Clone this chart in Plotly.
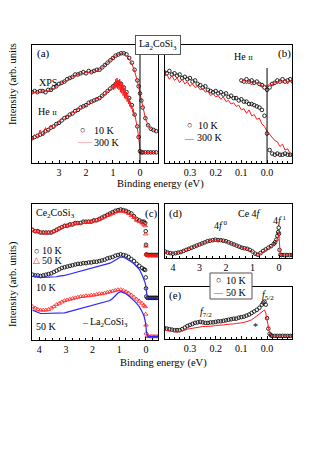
import plotly.graph_objects as go

W, H = 317, 454
FONT = "Liberation Serif, Times New Roman, serif"
RED = "#ff1a1a"
BLUE = "#2828ff"

# ---------------- data ----------------
# panel (a): La2CoSi3 valence band, XPS and He II
EA = [4.0, 3.9, 3.8, 3.7, 3.6, 3.5, 3.4, 3.3, 3.2, 3.1, 3.0, 2.9, 2.8, 2.7, 2.6, 2.5, 2.4, 2.3, 2.2, 2.1,
      2.0, 1.9, 1.8, 1.7, 1.6, 1.5, 1.4, 1.3, 1.2, 1.1, 1.0, 0.9, 0.8, 0.7, 0.6, 0.5, 0.4, 0.3, 0.2, 0.1,
      0.05, 0.0, -0.05, -0.1, -0.2, -0.3, -0.4, -0.5, -0.6]
XPS_10K = [0.60, 0.61, 0.60, 0.61, 0.61, 0.60, 0.62, 0.62, 0.64, 0.65, 0.67, 0.68, 0.69, 0.71, 0.72, 0.73, 0.75, 0.75, 0.76, 0.77,
           0.76, 0.78, 0.77, 0.78, 0.79, 0.79, 0.81, 0.83, 0.85, 0.87, 0.89, 0.91, 0.92, 0.93, 0.93, 0.92, 0.89, 0.85, 0.79, 0.70,
           0.65, 0.59, 0.53, 0.47, 0.38, 0.32, 0.29, 0.28, 0.27]
XPS_300K = [0.60, 0.60, 0.60, 0.60, 0.61, 0.61, 0.61, 0.62, 0.63, 0.65, 0.66, 0.68, 0.69, 0.70, 0.72, 0.73, 0.74, 0.75, 0.76, 0.76,
            0.77, 0.77, 0.77, 0.78, 0.78, 0.79, 0.81, 0.83, 0.85, 0.87, 0.89, 0.91, 0.92, 0.93, 0.93, 0.91, 0.88, 0.84, 0.78, 0.70,
            0.65, 0.59, 0.53, 0.47, 0.38, 0.32, 0.29, 0.28, 0.27]
HE_10K = [0.21, 0.22, 0.23, 0.24, 0.25, 0.27, 0.28, 0.30, 0.31, 0.33, 0.34, 0.36, 0.38, 0.39, 0.41, 0.42, 0.44, 0.45, 0.47, 0.48,
          0.49, 0.51, 0.52, 0.53, 0.54, 0.55, 0.57, 0.59, 0.61, 0.63, 0.65, 0.67, 0.68, 0.67, 0.64, 0.60, 0.55, 0.49, 0.41, 0.31,
          0.22, 0.10, 0.09, 0.09, 0.09, 0.09, 0.09, 0.09, 0.09]
EA_HE300 = [4.0, 3.9, 3.8, 3.7, 3.6, 3.5, 3.4, 3.3, 3.2, 3.1, 3.0, 2.9, 2.8, 2.7, 2.6, 2.5, 2.4, 2.3, 2.2, 2.1,
            2.0, 1.9, 1.8, 1.7, 1.6, 1.5, 1.4, 1.3, 1.2, 1.1,
            1.0, 0.975, 0.95, 0.925, 0.9, 0.875, 0.85, 0.825, 0.8, 0.775, 0.75, 0.725, 0.7, 0.675, 0.65, 0.625,
            0.6, 0.575, 0.55, 0.525, 0.5, 0.475, 0.45, 0.425, 0.4, 0.375, 0.35, 0.325, 0.3, 0.275, 0.25, 0.225, 0.2,
            0.15, 0.1, 0.05, 0.0, -0.05, -0.1, -0.2, -0.3, -0.4, -0.5, -0.6]
HE_300K = [0.20, 0.24, 0.21, 0.28, 0.23, 0.30, 0.26, 0.32, 0.29, 0.33, 0.34, 0.37, 0.37, 0.40, 0.40, 0.43, 0.43, 0.46, 0.46, 0.48,
           0.49, 0.50, 0.52, 0.52, 0.55, 0.54, 0.57, 0.58, 0.61, 0.62,
           0.66, 0.62, 0.68, 0.63, 0.71, 0.64, 0.72, 0.63, 0.70, 0.62, 0.71, 0.60, 0.69, 0.59, 0.67, 0.57,
           0.65, 0.55, 0.63, 0.54, 0.60, 0.52, 0.58, 0.50, 0.55, 0.48, 0.52, 0.46, 0.49, 0.43, 0.46, 0.40, 0.42,
           0.37, 0.30, 0.22, 0.12, 0.10, 0.09, 0.09, 0.09, 0.09, 0.09, 0.09]

# panel (b): He II near E_F
EB = [0.40, 0.39, 0.38, 0.37, 0.36, 0.35, 0.34, 0.33, 0.32, 0.31, 0.30, 0.29, 0.28, 0.27, 0.26, 0.25, 0.24,
      0.23, 0.22, 0.21, 0.20, 0.19, 0.18, 0.17, 0.16, 0.15, 0.14, 0.13, 0.12, 0.11, 0.10, 0.09, 0.08, 0.07,
      0.06, 0.05, 0.04, 0.03, 0.02, 0.01, 0.00, -0.01, -0.02, -0.03, -0.04, -0.05, -0.06, -0.07, -0.08, -0.09, -0.10]
B_10K = [0.77, 0.76, 0.78, 0.75, 0.76, 0.74, 0.75, 0.72, 0.73, 0.71, 0.72, 0.69, 0.70, 0.67, 0.66, 0.64, 0.65,
         0.62, 0.61, 0.60, 0.61, 0.59, 0.60, 0.58, 0.59, 0.56, 0.57, 0.55, 0.55, 0.53, 0.54, 0.52, 0.52, 0.50,
         0.50, 0.49, 0.48, 0.47, 0.45, 0.40, 0.25, 0.11, 0.08, 0.07, 0.08, 0.07, 0.07, 0.08, 0.07, 0.07, 0.07]
B_300K = [0.73, 0.75, 0.71, 0.74, 0.70, 0.72, 0.68, 0.71, 0.67, 0.69, 0.65, 0.67, 0.64, 0.65, 0.62, 0.63, 0.60,
          0.61, 0.57, 0.59, 0.56, 0.57, 0.54, 0.56, 0.52, 0.53, 0.50, 0.51, 0.48, 0.49, 0.45, 0.46, 0.42, 0.45,
          0.40, 0.41, 0.37, 0.38, 0.33, 0.31, 0.27, 0.24, 0.22, 0.19, 0.18, 0.14, 0.16, 0.11, 0.12, 0.08, 0.07]
EB_DIV = [0.10, 0.09, 0.08, 0.07, 0.06, 0.05, 0.04, 0.03, 0.02, 0.01, 0.00,
          -0.01, -0.02, -0.03, -0.04, -0.05, -0.06, -0.07, -0.08, -0.09, -0.10]
B_DIV_10K = [0.70, 0.69, 0.71, 0.69, 0.70, 0.68, 0.69, 0.67, 0.66, 0.64, 0.62,
             0.64, 0.67, 0.68, 0.70, 0.69, 0.71, 0.69, 0.70, 0.71, 0.69]
B_DIV_300K = [0.68, 0.71, 0.67, 0.70, 0.66, 0.69, 0.67, 0.68, 0.65, 0.66, 0.65,
              0.67, 0.66, 0.69, 0.67, 0.70, 0.68, 0.71, 0.67, 0.70, 0.69]

# panel (c): Ce2CoSi3 valence band
EC = [4.25, 4.15, 4.05, 3.95, 3.85, 3.75, 3.65, 3.55, 3.45, 3.35, 3.25, 3.15, 3.05, 2.95, 2.85, 2.75, 2.65,
      2.55, 2.45, 2.35, 2.25, 2.15, 2.05, 1.95, 1.85, 1.75, 1.65, 1.55, 1.45, 1.35, 1.25, 1.15, 1.05, 0.95,
      0.85, 0.75, 0.65, 0.55, 0.45, 0.35, 0.25, 0.15, 0.08, 0.03, 0.01, 0.0, -0.01, -0.05, -0.1, -0.15,
      -0.2, -0.25, -0.3, -0.35, -0.4, -0.45]
CE_TOP_10K = [0.81, 0.80, 0.80, 0.79, 0.79, 0.79, 0.79, 0.79, 0.80, 0.81, 0.82, 0.83, 0.84, 0.84, 0.85, 0.85, 0.86,
              0.86, 0.86, 0.87, 0.87, 0.87, 0.87, 0.88, 0.88, 0.89, 0.90, 0.91, 0.92, 0.93, 0.94, 0.95, 0.955, 0.96,
              0.955, 0.95, 0.94, 0.93, 0.91, 0.89, 0.88, 0.87, 0.87, 0.86, 0.80, 0.70, 0.63, 0.625, 0.625, 0.625,
              0.625, 0.625, 0.625, 0.625, 0.625, 0.625]
CE_TOP_50K = [0.81, 0.80, 0.795, 0.79, 0.79, 0.785, 0.79, 0.79, 0.80, 0.81, 0.82, 0.83, 0.835, 0.84, 0.845, 0.85, 0.855,
              0.86, 0.86, 0.865, 0.865, 0.87, 0.87, 0.875, 0.88, 0.885, 0.895, 0.905, 0.915, 0.92, 0.93, 0.94, 0.945, 0.95,
              0.945, 0.94, 0.93, 0.915, 0.90, 0.88, 0.87, 0.86, 0.85, 0.84, 0.78, 0.69, 0.63, 0.62, 0.62, 0.62,
              0.62, 0.62, 0.62, 0.62, 0.62, 0.62]
CE_MID_10K = [0.48, 0.475, 0.475, 0.47, 0.475, 0.48, 0.485, 0.49, 0.50, 0.51, 0.52, 0.53, 0.535, 0.54, 0.545, 0.55, 0.555,
              0.56, 0.56, 0.565, 0.565, 0.57, 0.57, 0.575, 0.575, 0.58, 0.585, 0.59, 0.60, 0.605, 0.61, 0.62, 0.625, 0.63,
              0.625, 0.62, 0.61, 0.595, 0.58, 0.56, 0.545, 0.53, 0.52, 0.515, 0.46, 0.38, 0.32, 0.31, 0.31, 0.31,
              0.31, 0.31, 0.31, 0.31, 0.31, 0.31]
LA_MID = [0.47, 0.465, 0.46, 0.46, 0.46, 0.46, 0.46, 0.46, 0.46, 0.465, 0.47, 0.47, 0.475, 0.48, 0.485, 0.49, 0.495,
          0.50, 0.505, 0.51, 0.515, 0.52, 0.525, 0.53, 0.535, 0.54, 0.545, 0.55, 0.56, 0.565, 0.575, 0.59, 0.60, 0.61,
          0.61, 0.60, 0.59, 0.575, 0.56, 0.54, 0.52, 0.48, 0.45, 0.42, 0.40, 0.38, 0.34, 0.31, 0.31, 0.31,
          0.31, 0.31, 0.31, 0.31, 0.31, 0.31]
CE_BOT_50K = [0.245, 0.235, 0.225, 0.22, 0.22, 0.22, 0.225, 0.235, 0.245, 0.26, 0.27, 0.28, 0.29, 0.295, 0.30, 0.305, 0.31,
              0.315, 0.32, 0.32, 0.325, 0.325, 0.33, 0.33, 0.335, 0.34, 0.34, 0.345, 0.35, 0.355, 0.36, 0.365, 0.37, 0.37,
              0.365, 0.355, 0.345, 0.33, 0.315, 0.30, 0.285, 0.27, 0.255, 0.245, 0.19, 0.11, 0.05, 0.03, 0.025, 0.025,
              0.025, 0.025, 0.025, 0.025, 0.025, 0.025]
LA_BOT = [0.22, 0.21, 0.20, 0.195, 0.195, 0.195, 0.195, 0.195, 0.195, 0.195, 0.195, 0.195, 0.20, 0.205, 0.21, 0.215, 0.22,
          0.225, 0.235, 0.24, 0.245, 0.25, 0.255, 0.26, 0.26, 0.265, 0.27, 0.28, 0.285, 0.29, 0.305, 0.325, 0.345, 0.355,
          0.35, 0.34, 0.325, 0.31, 0.29, 0.27, 0.245, 0.21, 0.18, 0.14, 0.12, 0.10, 0.07, 0.03, 0.025, 0.025,
          0.025, 0.025, 0.025, 0.025, 0.025, 0.025]

# panel (d): Ce 4f
ED = [4.3, 4.2, 4.1, 4.0, 3.9, 3.8, 3.7, 3.6, 3.5, 3.4, 3.3, 3.2, 3.1, 3.0, 2.9, 2.8, 2.7, 2.6, 2.5, 2.4,
      2.3, 2.2, 2.1, 2.0, 1.9, 1.8, 1.7, 1.6, 1.5, 1.4, 1.3, 1.2, 1.1, 1.0, 0.9, 0.8, 0.7, 0.6, 0.5, 0.4,
      0.3, 0.2, 0.15, 0.1, 0.06, 0.03, 0.01, 0.0, -0.02, -0.05, -0.1, -0.2, -0.3, -0.4, -0.49]
D_10K = [0.12, 0.10, 0.09, 0.08, 0.09, 0.10, 0.11, 0.13, 0.15, 0.17, 0.19, 0.21, 0.23, 0.25, 0.27, 0.29, 0.31, 0.32, 0.33, 0.34,
         0.33, 0.33, 0.32, 0.31, 0.29, 0.27, 0.25, 0.23, 0.21, 0.19, 0.18, 0.17, 0.15, 0.12, 0.08, 0.06, 0.09, 0.13, 0.16, 0.19,
         0.22, 0.26, 0.29, 0.34, 0.41, 0.48, 0.56, 0.45, 0.15, 0.06, 0.055, 0.055, 0.055, 0.055, 0.055]
D_50K = [0.11, 0.11, 0.08, 0.09, 0.08, 0.11, 0.10, 0.14, 0.14, 0.18, 0.18, 0.22, 0.22, 0.26, 0.26, 0.30, 0.30, 0.33, 0.32, 0.34,
         0.32, 0.34, 0.31, 0.31, 0.28, 0.27, 0.24, 0.23, 0.20, 0.19, 0.17, 0.17, 0.14, 0.12, 0.07, 0.05, 0.08, 0.12, 0.15, 0.18,
         0.21, 0.25, 0.27, 0.31, 0.35, 0.40, 0.46, 0.38, 0.12, 0.06, 0.055, 0.055, 0.055, 0.055, 0.055]

# panel (e): near E_F
EE = [0.40, 0.39, 0.38, 0.37, 0.36, 0.35, 0.34, 0.33, 0.32, 0.31, 0.30, 0.29, 0.28, 0.27, 0.26, 0.25, 0.24,
      0.23, 0.22, 0.21, 0.20, 0.19, 0.18, 0.17, 0.16, 0.15, 0.14, 0.13, 0.12, 0.11, 0.10, 0.09, 0.08, 0.07,
      0.06, 0.05, 0.04, 0.03, 0.02, 0.015, 0.01, 0.005, 0.0, -0.005, -0.01, -0.015, -0.02, -0.03, -0.04,
      -0.05, -0.06, -0.07, -0.08, -0.09, -0.10]
E_10K = [0.21, 0.20, 0.19, 0.18, 0.17, 0.17, 0.17, 0.19, 0.22, 0.25, 0.27, 0.29, 0.31, 0.32, 0.33, 0.32, 0.31,
         0.31, 0.32, 0.32, 0.33, 0.34, 0.34, 0.35, 0.36, 0.37, 0.38, 0.39, 0.39, 0.41, 0.42, 0.43, 0.45, 0.47,
         0.50, 0.53, 0.56, 0.60, 0.66, 0.70, 0.72, 0.66, 0.40, 0.20, 0.10, 0.07, 0.06, 0.06, 0.06,
         0.06, 0.06, 0.06, 0.06, 0.06, 0.06]
E_50K = [0.17, 0.16, 0.15, 0.14, 0.13, 0.13, 0.14, 0.15, 0.17, 0.19, 0.20, 0.21, 0.22, 0.23, 0.24, 0.24, 0.24,
         0.24, 0.25, 0.25, 0.26, 0.26, 0.27, 0.27, 0.28, 0.28, 0.29, 0.29, 0.30, 0.30, 0.31, 0.32, 0.33, 0.35,
         0.37, 0.40, 0.44, 0.48, 0.52, 0.55, 0.56, 0.50, 0.35, 0.20, 0.11, 0.08, 0.06, 0.06, 0.06,
         0.06, 0.06, 0.06, 0.06, 0.06, 0.06]

# ---------------- figure ----------------
def X(p):
    return p / W


def Y(p):
    return 1 - p / H


fig = go.Figure()

panels = [
    # axis suffix, x px span, y px span, x range, tick values, tick text, minor dtick
    ("", (32, 158), (45, 163), [4.0, -0.667], [3, 2, 1, 0], ["3", "2", "1", "0"], 0.25),
    ("2", (165, 292), (45, 163), [0.397, -0.097], [0.3, 0.2, 0.1, 0.0], ["0.3", "0.2", "0.1", "0.0"], 0.02),
    ("3", (32, 158), (204, 340), [4.27, -0.45], [4, 3, 2, 1, 0], ["4", "3", "2", "1", "0"], 0.25),
    ("4", (165, 292), (204, 258), [4.3, -0.49], [4, 3, 2, 1, 0], ["4", "3", "2", "1", "0"], 0.25),
    ("5", (165, 292), (287, 339), [0.397, -0.097], [0.3, 0.2, 0.1, 0.0], ["0.3", "0.2", "0.1", "0.0"], 0.02),
]
lay = {}
for n, xs, ys, xr, tv, tt, mn in panels:
    lay["xaxis" + n] = dict(
        domain=[X(xs[0]), X(xs[1])], anchor="y" + n, range=xr,
        showline=True, linecolor="black", linewidth=1, mirror=True,
        ticks="inside", ticklen=3, tickwidth=1, tickcolor="black",
        tickvals=tv, ticktext=tt, showgrid=False, zeroline=False,
        tickfont=dict(family=FONT, size=10, color="black"),
        minor=dict(dtick=mn, ticks="inside", ticklen=2, tickcolor="black", showgrid=False),
    )
    lay["yaxis" + n] = dict(
        domain=[Y(ys[1]), Y(ys[0])], anchor="x" + n, range=[0, 1],
        showline=True, linecolor="black", linewidth=1, mirror=True,
        ticks="", showticklabels=False, showgrid=False, zeroline=False,
    )


def circles(x, y, ax):
    return go.Scatter(x=x, y=y, mode="markers", xaxis="x" + ax, yaxis="y" + ax,
                      marker=dict(symbol="circle-open", size=3.6, color="#111111", line=dict(width=0.9)),
                      showlegend=False, hoverinfo="skip")


def tris(x, y, ax):
    return go.Scatter(x=x, y=y, mode="markers", xaxis="x" + ax, yaxis="y" + ax,
                      marker=dict(symbol="triangle-up-open", size=4, color=RED, line=dict(width=0.8)),
                      showlegend=False, hoverinfo="skip")


def line(x, y, ax, color, w=1.0):
    return go.Scatter(x=x, y=y, mode="lines", xaxis="x" + ax, yaxis="y" + ax,
                      line=dict(color=color, width=w), showlegend=False, hoverinfo="skip")


# (a)
fig.add_trace(circles(EA, XPS_10K, ""))
fig.add_trace(line(EA, XPS_300K, "", RED))
fig.add_trace(circles(EA, HE_10K, ""))
fig.add_trace(line(EA_HE300, HE_300K, "", RED))
# (b)
fig.add_trace(circles(EB, B_10K, "2"))
fig.add_trace(line(EB, B_300K, "2", RED))
fig.add_trace(circles(EB_DIV, B_DIV_10K, "2"))
fig.add_trace(line(EB_DIV, B_DIV_300K, "2", RED))
# (c)
fig.add_trace(circles(EC, CE_TOP_10K, "3"))
fig.add_trace(tris(EC, CE_TOP_50K, "3"))
fig.add_trace(circles(EC, CE_MID_10K, "3"))
fig.add_trace(line(EC, LA_MID, "3", BLUE, 1.2))
fig.add_trace(tris(EC, CE_BOT_50K, "3"))
fig.add_trace(line(EC, LA_BOT, "3", BLUE, 1.2))
# (d)
fig.add_trace(circles(ED, D_10K, "4"))
fig.add_trace(line(ED, D_50K, "4", RED))
# (e)
fig.add_trace(circles(EE, E_10K, "5"))
fig.add_trace(line(EE, E_50K, "5", RED))

shapes = [
    dict(type="line", xref="x", yref="y", x0=0, x1=0, y0=0, y1=1, line=dict(color="black", width=1)),
    dict(type="line", xref="x2", yref="y2", x0=0, x1=0, y0=0, y1=0.805, line=dict(color="black", width=1)),
    # legend box of panel (e)
    dict(type="rect", xref="paper", yref="paper", x0=X(210), x1=X(252), y0=Y(299), y1=Y(273),
         fillcolor="white", line=dict(color="#555555", width=1), layer="above"),
]


def txt(s, px, py, xanchor="left", size=10, color="black", **kw):
    d = dict(text=s, x=X(px), y=Y(py), xref="paper", yref="paper", showarrow=False,
             xanchor=xanchor, yanchor="middle", font=dict(family=FONT, size=size, color=color))
    d.update(kw)
    return d


HEII = "He <span style='font-size:7px'>II</span>"
CIRC = "○"
anns = [
    # title box
    txt("La<sub>2</sub>CoSi<sub>3</sub>", 157.5, 45, xanchor="center", bordercolor="#555555", borderwidth=1,
        bgcolor="white", borderpad=3, width=38, height=12),
    # (a)
    txt("(a)", 35, 53, size=11),
    txt("XPS", 37, 83),
    txt(HEII, 36, 111),
    txt(CIRC, 82, 130, xanchor="center", size=9),
    txt("10 K", 92, 130),
    txt("——", 84.5, 142, xanchor="center", color=RED, size=7),
    txt("300 K", 92, 142),
    # (b)
    txt(HEII, 232, 57),
    txt("(b)", 276, 53, size=11),
    txt(CIRC, 189, 125, xanchor="center", size=9),
    txt("10 K", 196, 125),
    txt("—", 189, 138, xanchor="center", color=RED, size=9),
    txt("300 K", 195, 138),
    # (c)
    txt("Ce<sub>2</sub>CoSi<sub>3</sub>", 34, 213),
    txt("(c)", 143, 213, size=11),
    txt(CIRC, 36, 251, xanchor="center", size=9),
    txt("10 K", 40, 251),
    txt("△", 36, 260, xanchor="center", color=RED, size=9),
    txt("50 K", 40, 260),
    txt("10 K", 34, 287),
    txt("50 K", 34, 326),
    txt("–", 85, 322, xanchor="center", color=BLUE, size=10),
    txt("La<sub>2</sub>CoSi<sub>3</sub>", 88, 322),
    # (d)
    txt("(d)", 167, 213, size=11),
    txt("Ce 4<i>f</i>", 236, 213),
    txt("4<i>f</i><sup> 0</sup>", 212, 225),
    txt("4<i>f</i><sup> 1</sup>", 271, 220),
    # (e)
    txt("(e)", 167, 295, size=11),
    txt("<i>f</i><sub>7/2</sub>", 198, 312),
    txt("<i>f</i><sub>5/2</sub>", 260, 295),
    txt("*", 251, 326),
    txt(CIRC, 218, 280, xanchor="center", size=9),
    txt("10 K", 224, 280),
    txt("—", 218, 292, xanchor="center", color=RED, size=9),
    txt("50 K", 224, 292),
    # axis titles
    txt("Binding energy (eV)", 160, 184, xanchor="center", size=10.5),
    txt("Binding energy (eV)", 163, 363, xanchor="center", size=10.5),
    txt("Intensity (arb. units", 13, 84, xanchor="center", textangle=-90, size=10.5),
    txt("Intensity (arb. units)", 13, 284, xanchor="center", textangle=-90, size=10.5),
]

fig.update_layout(
    width=W, height=H, margin=dict(l=0, r=0, t=0, b=0),
    paper_bgcolor="white", plot_bgcolor="white",
    showlegend=False, shapes=shapes, annotations=anns,
    font=dict(family=FONT, size=10, color="black"),
    **lay,
)

fig.write_html("out.html", config={"displayModeBar": False},
               post_script="document.body.style.margin='0';")
